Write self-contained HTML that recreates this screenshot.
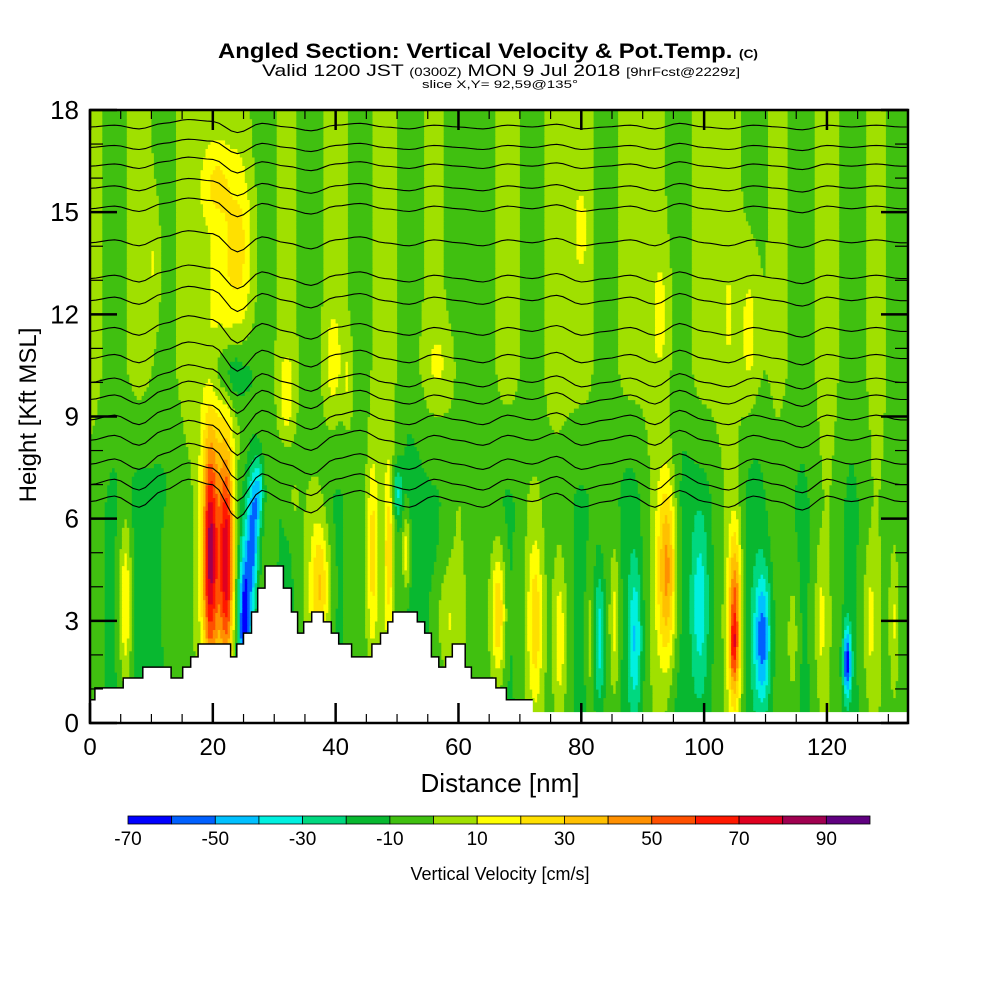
<!DOCTYPE html>
<html><head><meta charset="utf-8">
<style>
html,body{margin:0;padding:0;background:#fff;}
svg{display:block;font-family:"Liberation Sans",Arial,sans-serif;}
</style></head>
<body>
<svg id="chart" width="1000" height="1000" viewBox="0 0 1000 1000">
<text x="488" y="58" font-size="21" font-weight="bold" text-anchor="middle" textLength="540" lengthAdjust="spacingAndGlyphs">Angled Section: Vertical Velocity &amp; Pot.Temp. <tspan font-size="12">(C)</tspan></text>
<text x="501" y="76" font-size="17" text-anchor="middle" textLength="478" lengthAdjust="spacingAndGlyphs">Valid 1200 JST <tspan font-size="12">(0300Z)</tspan> MON 9 Jul 2018 <tspan font-size="12">[9hrFcst@2229z]</tspan></text>
<text x="500" y="88" font-size="11" text-anchor="middle" textLength="156" lengthAdjust="spacingAndGlyphs">slice X,Y= 92,59@135°</text>
<g id="field"></g>
<g id="terrain"></g>
<g id="theta"></g>
<rect x="90" y="110" width="818" height="613" fill="none" stroke="#000" stroke-width="2.5"/>
<g id="axes"></g>
<text x="500" y="792" font-size="26" text-anchor="middle">Distance [nm]</text>
<text transform="translate(36,415) rotate(-90)" font-size="24" text-anchor="middle">Height [Kft MSL]</text>
<g id="cbar"></g>
<text x="500" y="880" font-size="18" text-anchor="middle">Vertical Velocity [cm/s]</text>
</svg>
<script>
// ---- data ----
const binEdges = [-70,-60,-50,-40,-30,-20,-10,0,10,20,30,40,50,60,70,80,90,100];
const binColors = ["#0000ff","#0060ff","#00c0ff","#00f0e0","#00d880","#08b830","#40c010","#a0e000","#ffff00","#ffe000","#ffc000","#ff9000","#ff5000","#ff1800","#e00020","#a00050","#600080"];
const cbarLabels = [-70,-50,-30,-10,10,30,50,70,90];
const xTicks = [0,20,40,60,80,100,120];
const yTicks = [0,3,6,9,12,15,18];
const baseHigh = [5,-5,5,-5,5,8,5,-5,3,-5,5,-5,5,-5,3,-5,-5,5,-5,5,5,-5,5,3,-5,5,5,-5,3,-5,5,-5,3,-5];
const baseLow = [-5,-12,-15,-12,-5,0,-15,-5,-12,0,-12,-5,0,-15,-12,0,-5,-12,0,-5,-12,-5,-15,0,-15,-12,0,-15,-5,-12,0,-12,0,-5];
// cells: x nm, z kft, half-width nm, half-height kft, amplitude cm/s
const cellX = [19.5,22.3,21,25.2,26.5,27.5,23,24,20.5,10.5,32,39.5,42,57,93,107.5,104,80,5.8,12.5,37.5,33,46,48.7,51.5,50,58,66.5,72.5,76.5,81.5,83,85.5,88.8,94,99.3,105,104.8,109.5,114.5,119,123.3,127,131];
const cellZ = [5.0,4.8,5,3.0,5.5,6.8,10.3,14,15.8,13.5,9.5,10.5,10,10.5,12,11.5,12,14.5,3.5,4,4,6.5,5,5,5,6.8,3,3.2,3,2.5,2.5,2.5,3,2.5,4.5,3.5,3,2.2,2.5,2.5,3,1.8,3,3];
const cellW = [0.8,0.8,2.2,0.8,0.7,0.6,2.5,2,1.5,0.8,1.0,1,0.6,2,1.2,1.2,0.6,1,0.8,0.6,1.2,1,0.7,0.6,0.5,0.6,1.5,0.9,0.9,0.8,0.5,0.6,0.6,0.8,1.2,1,0.8,0.4,1,0.7,0.7,0.5,0.8,0.5];
const cellH = [2.4,2.4,3.2,1.8,1.5,0.8,0.8,1.8,0.7,1.5,1.0,1.2,1,1,1.5,2,1,1.2,2,1.5,1.5,0.8,2.2,2,1,0.6,1.2,1.5,1.8,1.8,1.5,1.5,1.6,1.6,2.2,2,2,0.6,1.5,1.5,1.5,0.8,1.5,1.5];
const cellA = [55,55,40,-60,-45,-30,-25,20,15,12,18,12,12,10,12,18,8,8,32,10,35,10,28,30,28,-25,15,38,28,22,15,-30,22,-28,50,-25,60,20,-45,15,15,-55,15,15];
const terrainX = [0,0.8,5.4,8.6,13.2,15.1,16.4,17.6,22.9,23.9,25.0,26.3,27.3,28.5,31.5,32.8,33.8,34.8,36.1,38.0,39.3,40.5,42.6,45.9,47.3,48.5,49.3,53.3,54.5,55.6,56.8,57.9,59.0,61.1,62.1,66.1,67.8,72.1,133.2];
const terrainZ = [0.68,1.03,1.32,1.64,1.32,1.64,1.94,2.32,1.94,2.32,2.64,3.26,3.96,4.61,3.96,3.26,2.64,2.97,3.26,2.97,2.64,2.32,1.94,2.32,2.64,2.97,3.26,2.97,2.64,1.94,1.64,1.94,2.32,1.64,1.32,1.03,0.68,0.32,0.32];
const thetaLevels = [17.5,16.9,16.35,15.7,15.1,14.1,13.05,12.4,11.5,10.7,10.0,9.5,8.9,8.3,7.6,7.0,6.5];
const thetaWobble = [0,0.1,-0.1,0.2,0.4,0.3,-0.3,0.2,0,-0.2,0.1,0.2,0,-0.1,0.1,0,-0.1,0.1,0,0.15,-0.1,0,0.1,-0.1,0.2,0,-0.1,0.1,0,-0.15,0.1,0,0.1,0];

// ---- axes ----
const X0=90, X1=908, Y0=723, Y1=110, XMAX=133.2, ZMAX=18;
const sx = v => X0 + v/XMAX*(X1-X0);
const sy = v => Y0 - v/ZMAX*(Y0-Y1);
const NS='http://www.w3.org/2000/svg';
function mk(tag, attrs, parent){const e=document.createElementNS(NS,tag);for(const k in attrs)e.setAttribute(k,attrs[k]);parent.appendChild(e);return e;}
function colIdx(v){let i=Math.floor((v+70)/10);return Math.max(0,Math.min(16,i));}
function baseAt(arr,x){const p=x/4;const i=Math.min(arr.length-2,Math.floor(p));const f=p-i;const s=f*f*(3-2*f);return arr[i]*(1-s)+arr[i+1]*s;}
const WXS=1.35, WZS=1.3;
function field(x,z){
  const t=Math.max(0,Math.min(1,(z-6.5)/4));
  let v=baseAt(baseLow,x)*(1-t)+baseAt(baseHigh,x)*t;
  for(let k=0;k<cellX.length;k++){const dx=(x-cellX[k])/(cellW[k]*WXS),dz=(z-cellZ[k])/(cellH[k]*WZS);v+=cellA[k]*Math.exp(-dx*dx-dz*dz);}
  return v;
}
// field
const fg=document.getElementById('field');
const DX=0.4, DZ=0.125;
const nx=Math.ceil(XMAX/DX), nz=Math.round(ZMAX/DZ);
for(let j=0;j<nz;j++){
  const z=(j+0.5)*DZ;
  let runStart=0, runC=colIdx(field(DX/2,z));
  for(let i=1;i<=nx;i++){
    const c = i<nx ? colIdx(field((i+0.5)*DX,z)) : -1;
    if(c!==runC){
      const xa=sx(runStart*DX), xb=sx(Math.min(XMAX,i*DX));
      const r=mk('rect',{x:xa.toFixed(1),y:sy((j+1)*DZ).toFixed(1),width:(xb-xa+0.6).toFixed(1),height:(sy(j*DZ)-sy((j+1)*DZ)+0.6).toFixed(1),fill:binColors[runC]},fg);
      
      
      runStart=i; runC=c;
    }
  }
}
// terrain
const tg=document.getElementById('terrain');
let d=`M${sx(0)},${sy(0)}`;
for(let i=0;i<terrainX.length-1;i++){d+=` L${sx(terrainX[i]).toFixed(1)},${sy(terrainZ[i]).toFixed(1)} L${sx(terrainX[i+1]).toFixed(1)},${sy(terrainZ[i]).toFixed(1)}`;}
d+=` L${sx(XMAX)},${sy(0)} Z`;
const tp=mk('path',{d:d,fill:'#fff',stroke:'none'},tg);


let d2=`M${sx(0)},${sy(terrainZ[0])}`;
for(let i=0;i<terrainX.length-1;i++){if(terrainX[i]>=72)break;d2+=` L${sx(terrainX[i]).toFixed(1)},${sy(terrainZ[i]).toFixed(1)} L${sx(terrainX[i+1]).toFixed(1)},${sy(terrainZ[i]).toFixed(1)}`;}
const to=mk('path',{d:d2,fill:'none',stroke:'#000','stroke-width':1.5},tg);


// theta contours
const thg=document.getElementById('theta');
thetaLevels.forEach((lv,li)=>{
  const amp = 0.5 + (18-lv)/10;
  let p='';
  for(let x=0;x<=XMAX;x+=1){const z=lv+amp*baseAt(thetaWobble,Math.min(x,132));p+=(p?' L':'M')+sx(x).toFixed(1)+','+sy(z).toFixed(1);}
  const l=mk('path',{d:p,fill:'none',stroke:'#000','stroke-width':1.1},thg);
  
  
});
// ticks
const ag=document.getElementById('axes');
for(let x=0;x<=XMAX;x+=5){
  const major=xTicks.includes(x);const L=major?20:9;
  const a=mk('line',{x1:sx(x),x2:sx(x),y1:Y0,y2:Y0-L,stroke:'#000','stroke-width':major?2.5:1.2},ag);
  
  const b=mk('line',{x1:sx(x),x2:sx(x),y1:Y1,y2:Y1+L,stroke:'#000','stroke-width':major?2.5:1.2},ag);
  
}
xTicks.forEach(x=>{const t=mk('text',{x:sx(x),y:755,'font-size':24,'text-anchor':'middle'},ag);t.textContent=x;
  });
for(let z=0;z<=18;z++){
  const major=yTicks.includes(z);const L=major?27:13;
  const a=mk('line',{x1:X0,x2:X0+L,y1:sy(z),y2:sy(z),stroke:'#000','stroke-width':major?2.5:1.2},ag);
  
  const b=mk('line',{x1:X1,x2:X1-L,y1:sy(z),y2:sy(z),stroke:'#000','stroke-width':major?2.5:1.2},ag);
  
}
yTicks.forEach(z=>{const t=mk('text',{x:79,y:sy(z)+9,'font-size':26,'text-anchor':'end'},ag);t.textContent=z;
  });
// colorbar
const cg=document.getElementById('cbar');
const CB0=128, CB1=870;
const cx=v=>CB0+(v-binEdges[0])/(binEdges[binEdges.length-1]-binEdges[0])*(CB1-CB0);
binColors.forEach((c,i)=>{const r=mk('rect',{x:cx(binEdges[i]),y:816,width:cx(binEdges[i+1])-cx(binEdges[i]),height:8,fill:c,stroke:'#000','stroke-width':0.8},cg);
  });
cbarLabels.forEach(v=>{const t=mk('text',{x:cx(v),y:845,'font-size':19,'text-anchor':'middle'},cg);t.textContent=v;
  });
</script>
</body></html>
